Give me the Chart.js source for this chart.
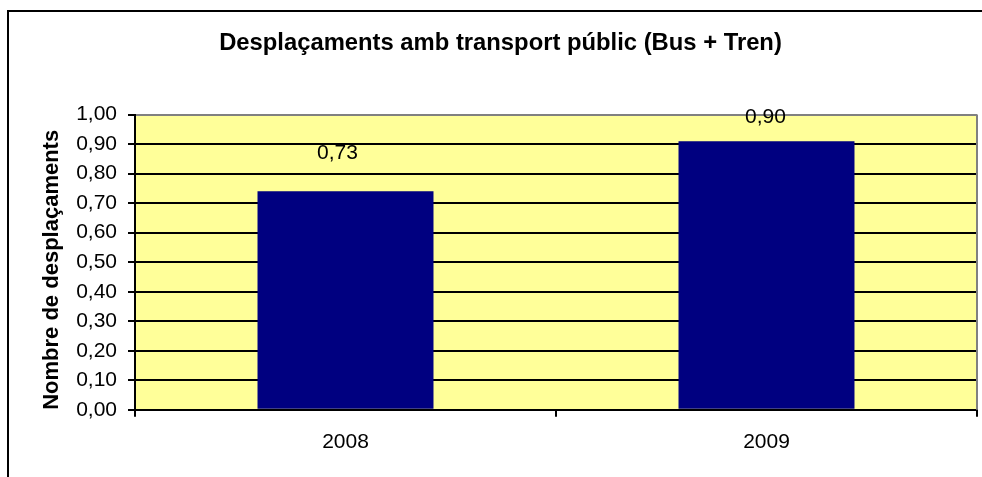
<!DOCTYPE html>
<html>
<head>
<meta charset="utf-8">
<script src="https://cdn.jsdelivr.net/npm/chart.js@4.4.0/dist/chart.umd.min.js"></script>
<style>
  html, body { margin: 0; padding: 0; background: #ffffff; }
  #wrap { width: 982px; height: 477px; }
</style>
</head>
<body>
<div id="wrap"><canvas id="grafic" width="982" height="477"></canvas></div>
<script>
// Dades del gràfic (llegides de la imatge)
const anys = ['2008', '2009'];
const desplacaments = [0.74, 0.91];
const etiquetesValor = ['0,73', '0,90'];
const titol = 'Desplaçaments amb transport públic (Bus + Tren)';
const titolEixY = 'Nombre de desplaçaments';

const FONT = 'Arial, "Liberation Sans", sans-serif';

// Marc exterior + fons groc de l'àrea de dibuix + vora grisa
const fonsPlugin = {
    id: 'fons',
    beforeDraw(chart) {
        const { ctx, chartArea: a } = chart;
        ctx.save();
        ctx.fillStyle = '#ffffff';
        ctx.fillRect(0, 0, chart.width, chart.height);
        ctx.strokeStyle = '#000000';
        ctx.lineWidth = 2;
        ctx.strokeRect(8, 11, 1200, 1000);
        ctx.fillStyle = '#FFFF99';
        ctx.fillRect(a.left, a.top, a.right - a.left, a.bottom - a.top);
        ctx.restore();
    },
    beforeDatasetsDraw(chart) {
        const { ctx, chartArea: a } = chart;
        ctx.save();
        ctx.strokeStyle = '#808080';
        ctx.lineWidth = 2;
        ctx.beginPath();
        ctx.moveTo(a.right, a.top);
        ctx.lineTo(a.right, a.bottom);
        ctx.stroke();
        ctx.restore();
    }
};

// Etiquetes de valor sobre les barres (desplaçades com a l'Excel)
const etiquetesPlugin = {
    id: 'etiquetes',
    afterDatasetsDraw(chart, args, opts) {
        const { ctx } = chart;
        const meta = chart.getDatasetMeta(0);
        ctx.save();
        ctx.font = '21px ' + FONT;
        ctx.fillStyle = '#000000';
        ctx.textAlign = 'center';
        ctx.textBaseline = 'middle';
        meta.data.forEach((bar, i) => {
            const o = opts.offsets[i] || { dx: 0, dy: -30 };
            ctx.fillText(etiquetesValor[i], bar.x + o.dx, bar.y + o.dy);
        });
        ctx.restore();
    }
};

new Chart(document.getElementById('grafic'), {
    type: 'bar',
    data: {
        labels: anys,
        datasets: [{
            data: desplacaments,
            backgroundColor: '#000080',
            borderWidth: 0,
            categoryPercentage: 1,
            barPercentage: 0.418
        }]
    },
    options: {
        responsive: false,
        animation: false,
        layout: { padding: { top: 0, left: 24, right: 5, bottom: 9 } },
        plugins: {
            legend: { display: false },
            tooltip: { enabled: false },
            title: {
                display: true,
                text: titol,
                color: '#000000',
                font: { family: FONT, size: 23.8, weight: 'bold' },
                padding: { top: 29, bottom: 57 }
            },
            etiquetes: {
                offsets: [{ dx: -8, dy: -38 }, { dx: -1, dy: -24 }]
            }
        },
        scales: {
            x: {
                grid: { display: true, drawOnChartArea: false, offset: true, color: '#000000', lineWidth: 2, tickLength: 7 },
                border: { display: true, color: '#000000', width: 2 },
                ticks: { color: '#000000', font: { family: FONT, size: 21 }, padding: 13 }
            },
            y: {
                min: 0,
                max: 1,
                afterFit(scale) { scale.width = 111; },
                grid: {
                    color: c => (c.tick && c.tick.value === 1 ? '#808080' : '#000000'),
                    tickColor: '#000000',
                    lineWidth: 2,
                    tickLength: 7
                },
                border: { display: true, color: '#000000', width: 2 },
                ticks: {
                    stepSize: 0.1,
                    autoSkip: false,
                    color: '#000000',
                    font: { family: FONT, size: 21 },
                    padding: 11,
                    callback: v => v.toFixed(2).replace('.', ',')
                },
                title: {
                    display: true,
                    text: titolEixY,
                    align: 'start',
                    color: '#000000',
                    font: { family: FONT, size: 22, weight: 'bold' },
                    padding: { top: 15, bottom: 0 }
                }
            }
        }
    },
    plugins: [fonsPlugin, etiquetesPlugin]
});
</script>
</body>
</html>
